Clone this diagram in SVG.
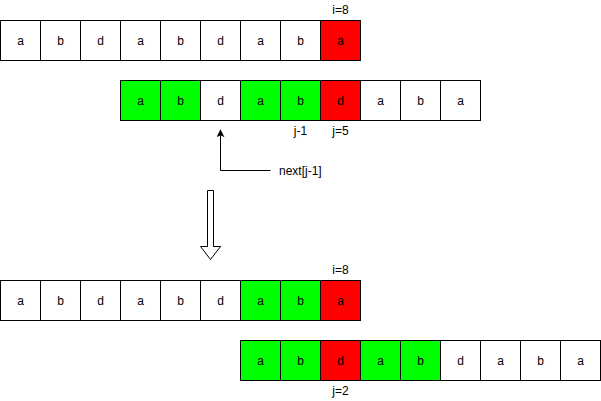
<svg xmlns="http://www.w3.org/2000/svg" width="601" height="401" viewBox="0 0 601 401">
<style>
.c{stroke:#000;stroke-width:1}
.w{fill:#fff}
.g{fill:#00ff00}
.r{fill:#ff0000}
text{font-family:"Liberation Sans",Arial,sans-serif;font-size:12px;fill:#000;text-anchor:middle;dominant-baseline:central}
.l{text-anchor:start}
</style>
<defs>
<marker id="ah" viewBox="0 0 10 10" refX="9" refY="5" markerWidth="9" markerHeight="8" markerUnits="userSpaceOnUse" orient="auto"><path d="M0,0 L10,5 L0,10 L2.5,5 Z" fill="#000"/></marker>
</defs>
<rect width="601" height="401" fill="#fff"/>
<g id="row1">
<rect class="c w" x="0.5" y="20.5" width="40" height="40"/><text x="20.5" y="40.5">a</text>
<rect class="c w" x="40.5" y="20.5" width="40" height="40"/><text x="60.5" y="40.5">b</text>
<rect class="c w" x="80.5" y="20.5" width="40" height="40"/><text x="100.5" y="40.5">d</text>
<rect class="c w" x="120.5" y="20.5" width="40" height="40"/><text x="140.5" y="40.5">a</text>
<rect class="c w" x="160.5" y="20.5" width="40" height="40"/><text x="180.5" y="40.5">b</text>
<rect class="c w" x="200.5" y="20.5" width="40" height="40"/><text x="220.5" y="40.5">d</text>
<rect class="c w" x="240.5" y="20.5" width="40" height="40"/><text x="260.5" y="40.5">a</text>
<rect class="c w" x="280.5" y="20.5" width="40" height="40"/><text x="300.5" y="40.5">b</text>
<rect class="c r" x="320.5" y="20.5" width="40" height="40"/><text x="340.5" y="40.5">a</text>
<text x="340.5" y="10">i=8</text>
</g>
<g id="row2">
<rect class="c g" x="120.5" y="80.5" width="40" height="40"/><text x="140.5" y="100.5">a</text>
<rect class="c g" x="160.5" y="80.5" width="40" height="40"/><text x="180.5" y="100.5">b</text>
<rect class="c w" x="200.5" y="80.5" width="40" height="40"/><text x="220.5" y="100.5">d</text>
<rect class="c g" x="240.5" y="80.5" width="40" height="40"/><text x="260.5" y="100.5">a</text>
<rect class="c g" x="280.5" y="80.5" width="40" height="40"/><text x="300.5" y="100.5">b</text>
<rect class="c r" x="320.5" y="80.5" width="40" height="40"/><text x="340.5" y="100.5">d</text>
<rect class="c w" x="360.5" y="80.5" width="40" height="40"/><text x="380.5" y="100.5">a</text>
<rect class="c w" x="400.5" y="80.5" width="40" height="40"/><text x="420.5" y="100.5">b</text>
<rect class="c w" x="440.5" y="80.5" width="40" height="40"/><text x="460.5" y="100.5">a</text>
<text x="300.5" y="130.5">j-1</text>
<text x="340.5" y="130.5">j=5</text>
</g>
<g id="row3">
<rect class="c w" x="0.5" y="280.5" width="40" height="40"/><text x="20.5" y="300.5">a</text>
<rect class="c w" x="40.5" y="280.5" width="40" height="40"/><text x="60.5" y="300.5">b</text>
<rect class="c w" x="80.5" y="280.5" width="40" height="40"/><text x="100.5" y="300.5">d</text>
<rect class="c w" x="120.5" y="280.5" width="40" height="40"/><text x="140.5" y="300.5">a</text>
<rect class="c w" x="160.5" y="280.5" width="40" height="40"/><text x="180.5" y="300.5">b</text>
<rect class="c w" x="200.5" y="280.5" width="40" height="40"/><text x="220.5" y="300.5">d</text>
<rect class="c g" x="240.5" y="280.5" width="40" height="40"/><text x="260.5" y="300.5">a</text>
<rect class="c g" x="280.5" y="280.5" width="40" height="40"/><text x="300.5" y="300.5">b</text>
<rect class="c r" x="320.5" y="280.5" width="40" height="40"/><text x="340.5" y="300.5">a</text>
<text x="340.5" y="270">i=8</text>
</g>
<g id="row4">
<rect class="c g" x="240.5" y="340.5" width="40" height="40"/><text x="260.5" y="360.5">a</text>
<rect class="c g" x="280.5" y="340.5" width="40" height="40"/><text x="300.5" y="360.5">b</text>
<rect class="c r" x="320.5" y="340.5" width="40" height="40"/><text x="340.5" y="360.5">d</text>
<rect class="c g" x="360.5" y="340.5" width="40" height="40"/><text x="380.5" y="360.5">a</text>
<rect class="c g" x="400.5" y="340.5" width="40" height="40"/><text x="420.5" y="360.5">b</text>
<rect class="c w" x="440.5" y="340.5" width="40" height="40"/><text x="460.5" y="360.5">d</text>
<rect class="c w" x="480.5" y="340.5" width="40" height="40"/><text x="500.5" y="360.5">a</text>
<rect class="c w" x="520.5" y="340.5" width="40" height="40"/><text x="540.5" y="360.5">b</text>
<rect class="c w" x="560.5" y="340.5" width="40" height="40"/><text x="580.5" y="360.5">a</text>
<text x="340.5" y="390.5">j=2</text>
</g>
<g id="connectors">
<path d="M270.5,170.5 L220.5,170.5 L220.5,130" fill="none" stroke="#000" stroke-width="1" marker-end="url(#ah)"/>
<path d="M207.5,190.5 L213.5,190.5 L213.5,246.5 L220.5,246.5 L210.5,259.5 L200.5,246.5 L207.5,246.5 Z" fill="#fff" stroke="#000" stroke-width="1"/>
</g>
<g id="label-next">
<text class="l" x="279" y="170.5">next[j-1]</text>
</g>
</svg>
